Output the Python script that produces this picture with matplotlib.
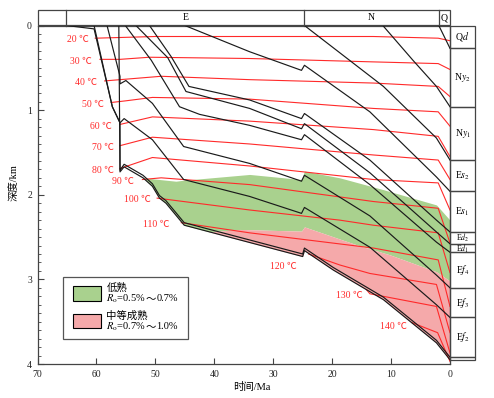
import numpy as np
import matplotlib
matplotlib.use("Agg")
import matplotlib.pyplot as plt
from matplotlib.patches import Rectangle

plt.rcParams['font.family'] = ['Liberation Serif', 'Noto Sans CJK SC']
plt.rcParams['mathtext.fontset'] = 'stix'

# 埋藏史曲线: 时间 (Ma) / 深度 (km)
base_t = [65.1, 60.4, 57.3, 56.0, 56.0, 55.3, 52.1, 50.5, 49.3, 48.2, 45.1, 25.0, 24.7, 19.8, 11.3, 2.3, 0]
base_d = [0, 0.04, 0.96, 1.15, 1.73, 1.67, 1.80, 1.90, 2.04, 2.10, 2.36, 2.73, 2.66, 2.89, 3.24, 3.75, 3.95]
ef2_t = [56.2, 56.0, 55.3, 52.1, 50.5, 49.3, 48.2, 45.1, 25.0, 24.7, 19.8, 11.3, 2.3, 0]
ef2_d = [0, 1.71, 1.64, 1.77, 1.87, 2.01, 2.07, 2.33, 2.70, 2.63, 2.86, 3.21, 3.72, 3.92]
ef3_t = [60.4, 57.3, 56.0, 55.3, 50.5, 45.2, 34, 25.2, 24.7, 13.6, 2.3, 0]
ef3_d = [0, 0.96, 1.15, 1.10, 1.35, 1.82, 2.02, 2.22, 2.15, 2.62, 3.30, 3.45]
ef4_t = [58.2, 56.0, 56.0, 55.0, 50.5, 45.2, 34, 25.2, 24.7, 13.6, 2.3, 0]
ef4_d = [0, 0.60, 0.69, 0.65, 0.92, 1.43, 1.63, 1.84, 1.77, 2.25, 2.95, 3.10]
ed1_t = [55.1, 50.7, 45.9, 42.5, 34, 25.2, 24.7, 13.6, 2.3, 0]
ed1_d = [0, 0.41, 0.96, 1.05, 1.18, 1.35, 1.29, 1.88, 2.56, 2.68]
ed2_t = [53.3, 47.9, 44.8, 34, 25.2, 24.7, 13.6, 2.3, 0]
ed2_d = [0, 0.38, 0.78, 0.98, 1.22, 1.16, 1.74, 2.44, 2.58]
es1_t = [51.0, 47.3, 44.3, 34, 25.2, 24.7, 13.6, 2.3, 0]
es1_d = [0, 0.37, 0.72, 0.88, 1.10, 1.04, 1.59, 2.30, 2.44]
es2_t = [45.0, 34, 25.2, 24.7, 13.6, 2.3, 0]
es2_d = [0, 0.31, 0.53, 0.47, 1.02, 1.79, 1.96]
ny1_t = [24.7, 11.3, 2.3, 0]
ny1_d = [0, 0.72, 1.33, 1.59]
ny2_t = [11.4, 6.3, 2.3, 0]
ny2_d = [0, 0.41, 0.72, 0.96]
qd_t = [1.9, 0]
qd_d = [0, 0.27]

# 等温线
iso_labels = ["20 ℃", "30 ℃", "40 ℃", "50 ℃", "60 ℃", "70 ℃", "80 ℃",
              "90 ℃", "100 ℃", "110 ℃", "120 ℃", "130 ℃", "140 ℃"]
iso_t = [
    [60.2, 50, 13, 2, 0],
    [59.4, 56, 51, 34, 13, 2, 0],
    [58.6, 56, 49, 34, 13, 2, 0],
    [57.5, 55, 50.5, 34, 13, 2, 0],
    [56.05, 50.5, 34, 13, 2, 0],
    [56.0, 50.5, 34, 13, 2, 0],
    [56.0, 50.5, 34, 13, 2, 0],
    [52.2, 49, 34, 13, 2, 0],
    [49.7, 34, 18.7, 13, 2, 0],
    [45.6, 34, 13, 2, 0],
    [24.0, 18.7, 13.6, 2.3, 0],
    [14.2, 13.6, 2.3, 0],
    [6.5, 2.1, 0],
]
iso_d = [
    [0.15, 0.13, 0.13, 0.15, 0.18],
    [0.40, 0.40, 0.375, 0.39, 0.43, 0.45, 0.52],
    [0.655, 0.64, 0.60, 0.64, 0.68, 0.72, 0.84],
    [0.91, 0.89, 0.85, 0.87, 0.98, 1.02, 1.19],
    [1.17, 1.08, 1.13, 1.23, 1.31, 1.55],
    [1.42, 1.32, 1.40, 1.53, 1.59, 1.82],
    [1.69, 1.56, 1.66, 1.82, 1.86, 2.18],
    [1.82, 1.80, 1.88, 2.08, 2.16, 2.57],
    [2.04, 2.18, 2.30, 2.36, 2.45, 2.92],
    [2.33, 2.45, 2.63, 2.77, 3.32],
    [2.70, 2.83, 2.93, 3.06, 3.63],
    [3.12, 3.17, 3.32, 3.87],
    [3.51, 3.63, 3.97],
]

# 成熟度区带
green_t = [52.1, 46.5, 45.4, 34, 25.2, 24.7, 18.7, 11.3, 2.3, 0]
green_d = [1.80, 1.84, 1.83, 1.76, 1.82, 1.72, 1.80, 1.94, 2.12, 2.30]
pink_t = [41.0, 35.7, 25.2, 24.7, 15.9, 10.2, 2.3, 0]
pink_d = [2.44, 2.41, 2.43, 2.38, 2.59, 2.71, 2.91, 3.02]

# 地层柱
strata_bounds = [0, 0.27, 0.96, 1.59, 1.96, 2.44, 2.58, 2.68, 3.10, 3.45, 3.92, 3.95]
strata_names = ["Q$d$", "N$y_2$", "N$y_1$", "E$s_2$", "E$s_1$", "E$d_2$", "E$d_1$",
                "E$f_4$", "E$f_3$", "E$f_2$", ""]
periods = ["E", "N", "Q"]
period_bounds = [65.1, 24.7, 1.9, 0]

RED = "#ff2a2a"
GREEN = "#a9d18e"
PINK = "#f5a9aa"
EDGE = "#444444"

fig = plt.figure(figsize=(4.94, 3.98), dpi=100)
ax = fig.add_axes([37.5 / 494, 1 - 364 / 398, 412.5 / 494, 338.5 / 398])
ax.set_xlim(70, 0)
ax.set_ylim(4, 0)


def interp(t, d, tt):
    return np.interp(tt, t[::-1], d[::-1])


# 填充
tg = np.linspace(0, green_t[0], 800)
gtop = interp(green_t, green_d, tg)
bot = interp(base_t, base_d, tg)
ptop = interp(pink_t, pink_d, tg)
lower = np.where(tg <= pink_t[0], ptop, bot)
ax.fill_between(tg, gtop, lower, color=GREEN, lw=0, zorder=1)
m = tg <= pink_t[0]
ax.fill_between(tg[m], ptop[m], bot[m], color=PINK, lw=0, zorder=1)

# 等温线
lab_off = [(1.0, 0.02), (1.3, 0.02), (1.3, 0.02), (1.3, 0.02), (1.4, 0.02), (1.0, 0.02),
           (1.0, 0.02), (1.5, 0.02), (1.0, 0.02), (2.0, 0.02), (2.0, 0.15), (0.6, 0.07),
           (0.8, 0.05)]
for lab, t, d, off in zip(iso_labels, iso_t, iso_d, lab_off):
    ax.plot(t, d, color=RED, lw=0.8, zorder=2)
    ax.text(t[0] + off[0], d[0] + off[1], lab, color=RED, fontsize=7,
            ha='right', va='center', zorder=4)

# 埋藏曲线
for t, d in [(base_t, base_d), (ef2_t, ef2_d), (ef3_t, ef3_d), (ef4_t, ef4_d),
             (ed1_t, ed1_d), (ed2_t, ed2_d), (es1_t, es1_d), (es2_t, es2_d),
             (ny1_t, ny1_d), (ny2_t, ny2_d), (qd_t, qd_d)]:
    ax.plot(t, d, color="#1a1a1a", lw=0.85, zorder=3)

# 顶部时代栏
hh = 0.183
ax.add_patch(Rectangle((70, -hh), -70, hh, fill=False, ec=EDGE, lw=0.9, clip_on=False))
for b in period_bounds[:-1]:
    ax.plot([b, b], [-hh, 0], color=EDGE, lw=0.9, clip_on=False)
for name, b0, b1 in zip(periods, period_bounds[:-1], period_bounds[1:]):
    ax.text((b0 + b1) / 2, -hh / 2, name, fontsize=7, ha='center', va='center')

# 右侧地层柱
cw = 4.25
for name, b0, b1 in zip(strata_names, strata_bounds[:-1], strata_bounds[1:]):
    ax.add_patch(Rectangle((0, b0), -cw, b1 - b0, fill=False, ec=EDGE, lw=0.9,
                           clip_on=False))
    if not name:
        continue
    thin = (b1 - b0) < 0.2
    ax.text(-cw / 2, (b0 + b1) / 2 + (0.015 if name == "E$d_1$" else 0), name,
            fontsize=5.8 if thin else 7, ha='center', va='center', clip_on=False)

# 图例
ax.add_patch(Rectangle((65.6, 2.97), -21.2, 0.73, fc='white', ec="#555555", lw=0.9,
                       zorder=5))
ax.add_patch(Rectangle((64.06, 3.08), -4.83, 0.18, fc=GREEN, ec='black', lw=0.8, zorder=6))
ax.add_patch(Rectangle((64.06, 3.41), -4.83, 0.17, fc=PINK, ec='black', lw=0.8, zorder=6))
legend_rows = [("低熟", 3.10, "0.5%", "0.7%", 3.225),
               ("中等成熟", 3.43, "0.7%", "1.0%", 3.555)]
for title, ty, lo, hi, ry in legend_rows:
    ax.text(58.33, ty, title, fontsize=7.5, ha='left', va='center', zorder=7)
    t1 = ax.text(58.33, ry, r"$R_\mathrm{o}$=" + lo, fontsize=7.5, ha='left',
                 va='center', zorder=7)
    t2 = ax.annotate("～", xy=(1, 0.5), xycoords=t1, ha='left', va='center',
                     fontsize=7.5, family='Noto Sans CJK SC', zorder=7)
    ax.annotate(hi, xy=(1, 0.5), xycoords=t2, ha='left', va='center',
                fontsize=7.5, zorder=7)

# 坐标轴
for s in ax.spines.values():
    s.set_color(EDGE)
    s.set_linewidth(0.9)
ax.set_xticks(np.arange(70, -1, -10))
ax.set_yticks([0, 1, 2, 3, 4])
ax.set_yticks(np.arange(0, 4.01, 0.1), minor=True)
ax.tick_params(axis='both', which='major', direction='in', length=4, width=0.8,
               labelsize=7, colors=EDGE, labelcolor='#222222')
ax.tick_params(axis='y', which='minor', direction='in', length=2, width=0.6, colors=EDGE)
ax.tick_params(axis='x', pad=4)
ax.tick_params(axis='y', pad=4)

fig.text(252 / 494, 1 - 387 / 398, "时间/Ma", fontsize=7.5, ha='center', va='center')
fig.text(14 / 494, 1 - 183 / 398, "深度/km", fontsize=7.5, ha='center', va='center',
         rotation=90)

fig.savefig("out.png", dpi=100)
